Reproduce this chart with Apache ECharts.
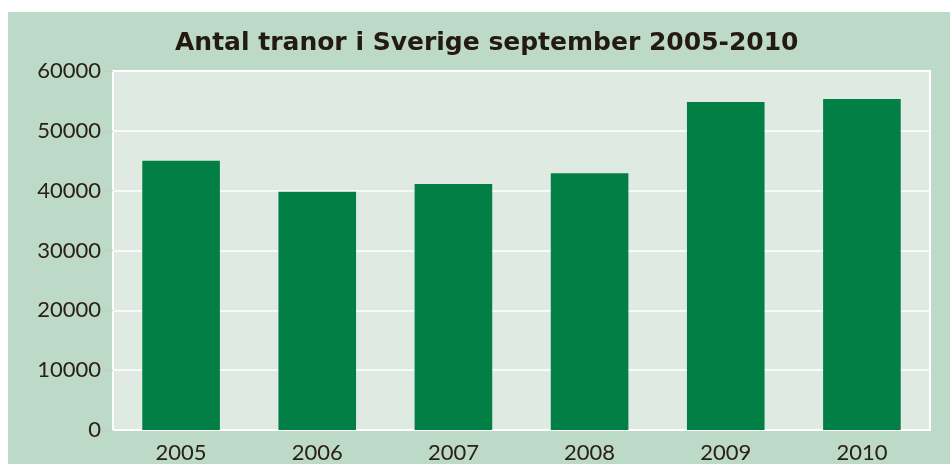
<!DOCTYPE html>
<html>
<head>
<meta charset="utf-8">
<script src="https://cdn.jsdelivr.net/npm/echarts@6/dist/echarts.min.js"></script>
<style>
  html, body { margin: 0; padding: 0; background: #ffffff; }
  #main { position: absolute; left: 8px; top: 12px; width: 942px; height: 452px; }
</style>
</head>
<body>
<div id="main"></div>
<script>
// data
var years = ['2005', '2006', '2007', '2008', '2009', '2010'];
var tranor = [45000, 39800, 41100, 42900, 54800, 55300];
var titleText = 'Antal tranor i Sverige september 2005-2010';

var chart = echarts.init(document.getElementById('main'));
chart.setOption({
    backgroundColor: '#bdd9c8',
    animation: false,
    title: {
        text: titleText,
        left: 162,
        top: 14,
        textStyle: {
            fontFamily: 'DejaVu Sans',
            fontWeight: 'bold',
            fontSize: 25,
            color: '#231a10'
        }
    },
    grid: {
        show: true,
        left: 105,
        right: 20,
        top: 59,
        bottom: 31,
        backgroundColor: '#dfebe2',
        borderColor: '#ffffff',
        borderWidth: 2
    },
    xAxis: {
        type: 'category',
        data: years,
        axisLine: { show: false },
        axisTick: { show: false },
        axisLabel: {
            margin: 12,
            fontFamily: 'Lato',
            fontSize: 22,
            color: '#2a2018'
        }
    },
    yAxis: {
        type: 'value',
        min: 0,
        max: 60000,
        interval: 10000,
        axisLine: { show: false },
        axisTick: { show: true, length: 8, lineStyle: { color: '#c8c8c8' } },
        axisLabel: {
            margin: 12,
            fontFamily: 'Lato',
            fontSize: 22,
            color: '#2a2018',
            formatter: function (v) { return String(v); }
        },
        splitLine: { lineStyle: { color: '#ffffff', width: 1.5 } }
    },
    series: [{
        type: 'bar',
        data: tranor,
        barWidth: '57%',
        itemStyle: { color: '#027f45' }
    }]
});
</script>
</body>
</html>
